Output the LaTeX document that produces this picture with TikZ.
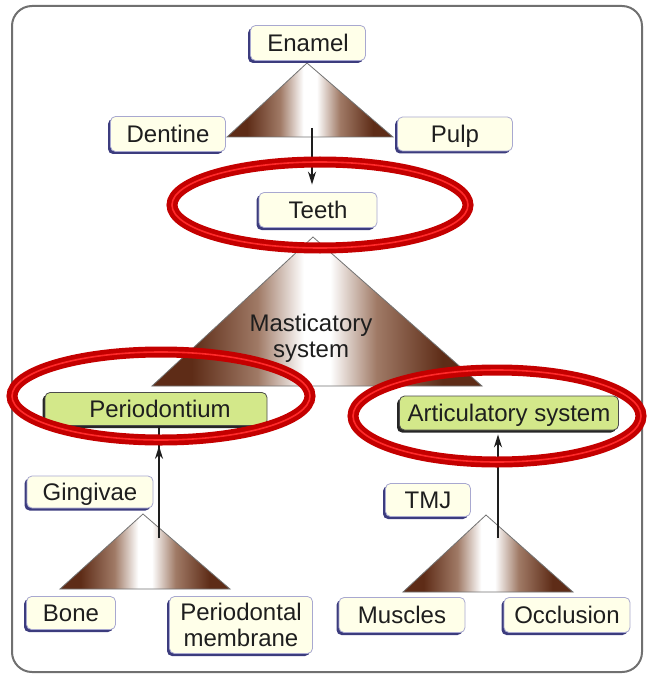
\documentclass[tikz,border=0pt]{standalone}
\usepackage{fontspec}
\setmainfont{Liberation Sans}
\usetikzlibrary{arrows.meta,shadows}
\definecolor{cream}{HTML}{FFFFE9}
\definecolor{navy}{HTML}{3C3C7E}
\definecolor{lblue}{HTML}{A8A8D0}
\definecolor{lgreen}{HTML}{D3E88A}
\definecolor{dbrown}{HTML}{5E2C17}
\definecolor{mbrown}{HTML}{A07A66}
\definecolor{dred}{HTML}{C40000}
\definecolor{bred}{HTML}{FF2A2A}
\definecolor{txt}{HTML}{1E1E1E}
\definecolor{frame}{HTML}{707070}
\pgfdeclarehorizontalshading{brownfade}{100bp}{color(0bp)=(dbrown); color(25bp)=(dbrown); color(31bp)=(dbrown); color(41bp)=(mbrown); color(48bp)=(white); color(52bp)=(white); color(59bp)=(mbrown); color(69bp)=(dbrown); color(75bp)=(dbrown); color(100bp)=(dbrown)}
\begin{document}
\begin{tikzpicture}[x=1pt,y=-1pt,
  lbl/.style={font=\fontsize{24}{26}\selectfont, text=txt},
  cbox/.style={lbl, rectangle, rounded corners=5pt, fill=cream, draw=lblue, line width=0.8pt,
    general shadow={fill=navy, shadow xshift=-2.5pt, shadow yshift=-2.5pt},
    inner sep=0pt, align=center, text height=17pt, text depth=0pt},
  gbox/.style={lbl, rectangle, rounded corners=5pt, fill=lgreen, draw=black!70, line width=0.8pt,
    general shadow={fill=black!85, shadow xshift=-2.5pt, shadow yshift=-2.5pt},
    inner sep=0pt, align=center, text height=17pt, text depth=0pt},
  tri/.style={shading=brownfade, draw=black!55, line width=0.8pt},
  arr/.style={draw=txt, line width=2pt, -{Stealth[length=13pt,width=8pt]}},
  ringout/.style={draw=dred, line width=11pt},
  ringin/.style={draw=bred, line width=1.6pt}
]
\useasboundingbox (0,0) rectangle (646,676);
% outer frame
\draw[draw=frame, line width=2pt, rounded corners=20pt] (12,6) rectangle (642,672);

% triangles
\shadedraw[tri] (307,63) -- (393,137) -- (227,137) -- cycle;
\shadedraw[tri] (313,237) -- (482,386) -- (152,386) -- cycle;
\shadedraw[tri] (143,514) -- (230,589) -- (60,589) -- cycle;
\shadedraw[tri] (486,515) -- (573,592) -- (403,592) -- cycle;

% boxes
\node[cbox, minimum width=115pt, minimum height=35pt] (enamel) at (308,43) {Enamel};
\node[cbox, minimum width=115pt, minimum height=35pt] (dentine) at (168,134) {Dentine};
\node[cbox, minimum width=115pt, minimum height=34pt] (pulp) at (455,134) {Pulp};
\node[cbox, minimum width=118pt, minimum height=35pt] (teeth) at (318,210) {Teeth};
\node[gbox, minimum width=222pt, minimum height=33pt] (perio) at (156,409) {\hspace*{8pt}Periodontium};
\node[gbox, minimum width=219pt, minimum height=34pt] (artic) at (509,413) {Articulatory system};
\node[cbox, minimum width=126pt, minimum height=32pt] (ging) at (90,492) {Gingivae};
\node[cbox, minimum width=85pt, minimum height=33pt] (tmj) at (428,500) {TMJ};
\node[cbox, minimum width=89pt, minimum height=33pt] (bone) at (71,613) {Bone};
\node[cbox, minimum width=143pt, minimum height=57pt, text height=, text depth=] (pm) at (241,625) {Periodontal\\membrane};
\node[cbox, minimum width=126pt, minimum height=35pt] (musc) at (402,615) {Muscles};
\node[cbox, minimum width=126pt, minimum height=35pt] (occl) at (567,615) {Occlusion};

% triangle label
\node[lbl, align=center, inner sep=0pt] (mast) at (311,338) {Masticatory\\system};

% connectors
\coordinate (a1) at (312,128);
\coordinate (a2) at (159,538);
\coordinate (a3) at (498,538);
\draw[arr, shorten >=7.5pt] (a1) -- (a1 |- teeth.north);
\draw[draw=txt, line width=2pt] (a2) -- (a2 |- perio.south);
\draw[arr, shorten >=20pt] (a2) -- (a2 |- perio.south);
\draw[arr, shorten >=4pt] (a3) -- (a3 |- artic.south);

% red highlight rings
\foreach \c/\rx/\ry in {{(320,205)}/148/43, {(161,396)}/149/44, {(497,416)}/144/46}{
  \draw[ringout] \c ellipse [x radius=\rx pt, y radius=\ry pt];
  \draw[ringin] \c ellipse [x radius=\rx pt, y radius=\ry pt];
}
\end{tikzpicture}
\end{document}
